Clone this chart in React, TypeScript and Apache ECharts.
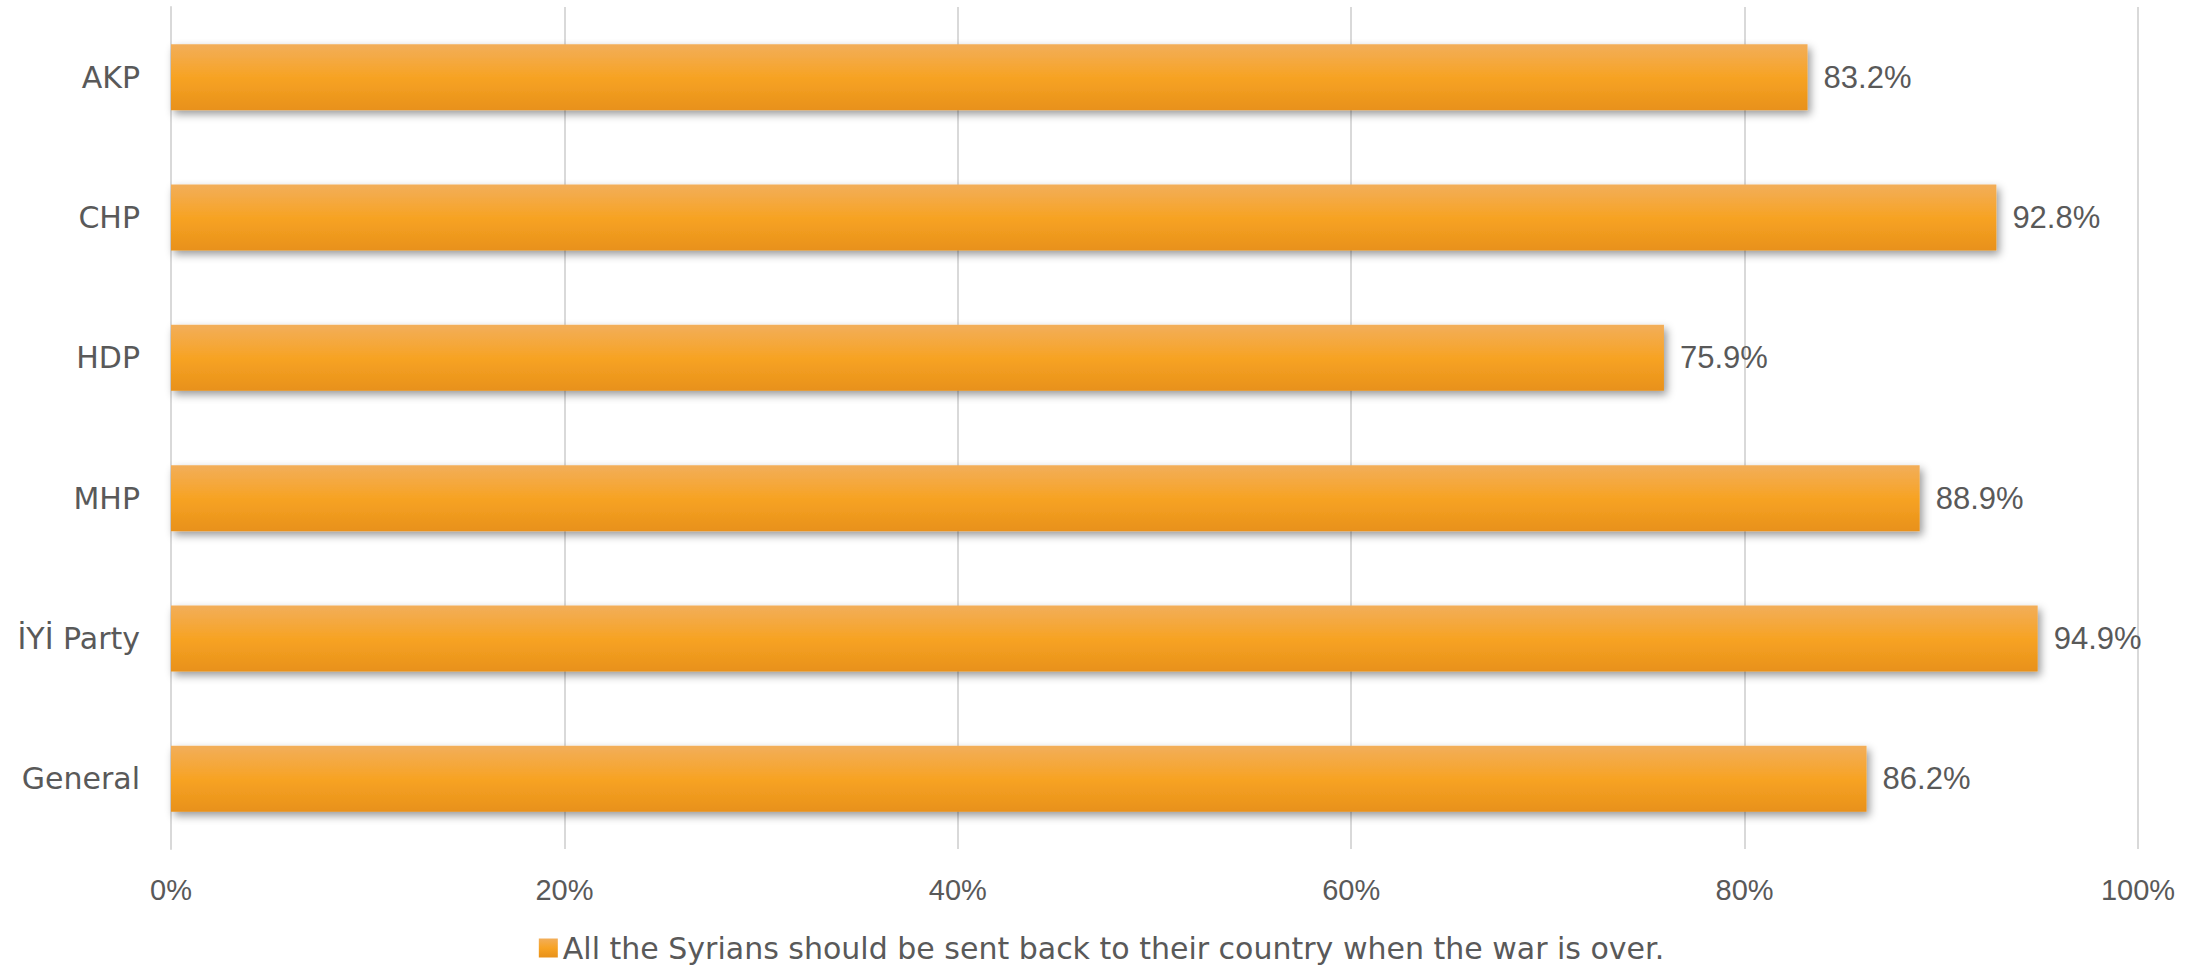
import React, { useEffect, useRef } from "react";
import * as echarts from "echarts";

const categories = ["AKP", "CHP", "HDP", "MHP", "İYİ Party", "General"];
const values = [83.2, 92.8, 75.9, 88.9, 94.9, 86.2];
const seriesName = "All the Syrians should be sent back to their country when the war is over.";
const xTicks = { min: 0, max: 100, interval: 20 };

const FONT_NUM = "'Liberation Sans', 'DejaVu Sans', sans-serif";
const FONT_TXT = "'DejaVu Sans', 'Liberation Sans', sans-serif";
const TEXT = "#595959";

export default function App() {
  const ref = useRef<HTMLDivElement>(null);
  useEffect(() => {
    if (!ref.current) return;
    const chart = echarts.init(ref.current, undefined, { renderer: "svg" });
    chart.setOption({
      animation: false,
      backgroundColor: "#ffffff",
      textStyle: { fontFamily: FONT_TXT, color: TEXT },
      grid: { left: 171, right: 65, top: 7, bottom: 121, containLabel: false },
      legend: {
        bottom: 2,
        left: "center",
        itemWidth: 19,
        itemHeight: 19,
        itemGap: 10,
        icon: "rect",
        textStyle: { fontSize: 30, color: TEXT, fontFamily: FONT_TXT },
        data: [seriesName],
      },
      xAxis: {
        type: "value",
        min: xTicks.min,
        max: xTicks.max,
        interval: xTicks.interval,
        axisLine: { show: false },
        axisTick: { show: false },
        axisLabel: { formatter: "{value}%", fontSize: 29, color: TEXT, margin: 26, fontFamily: FONT_NUM },
        splitLine: { show: true, lineStyle: { color: "#D9D9D9", width: 2 } },
      },
      yAxis: {
        type: "category",
        data: categories,
        inverse: true,
        axisLine: { show: true, lineStyle: { color: "#D9D9D9", width: 2 } },
        axisTick: { show: false },
        axisLabel: { fontSize: 30, color: TEXT, margin: 31, fontFamily: FONT_TXT },
      },
      series: [
        {
          name: seriesName,
          type: "bar",
          data: values,
          barWidth: 66,
          itemStyle: {
            color: new echarts.graphic.LinearGradient(0, 0, 0, 1, [
              { offset: 0, color: "#F2AE5A" },
              { offset: 0.5, color: "#F7A324" },
              { offset: 1, color: "#E8911A" },
            ]),
            shadowColor: "rgba(0,0,0,0.4)",
            shadowBlur: 8,
            shadowOffsetX: 3,
            shadowOffsetY: 4,
          },
          label: {
            show: true,
            position: "right",
            distance: 16,
            formatter: (p: any) => p.value.toFixed(1) + "%",
            fontSize: 31,
            color: TEXT,
            fontFamily: FONT_NUM,
          },
        },
      ],
    });
    return () => chart.dispose();
  }, []);
  return (
    <div
      ref={ref}
      style={{ position: "fixed", left: 0, top: 0, width: 2203, height: 970 }}
    />
  );
}
